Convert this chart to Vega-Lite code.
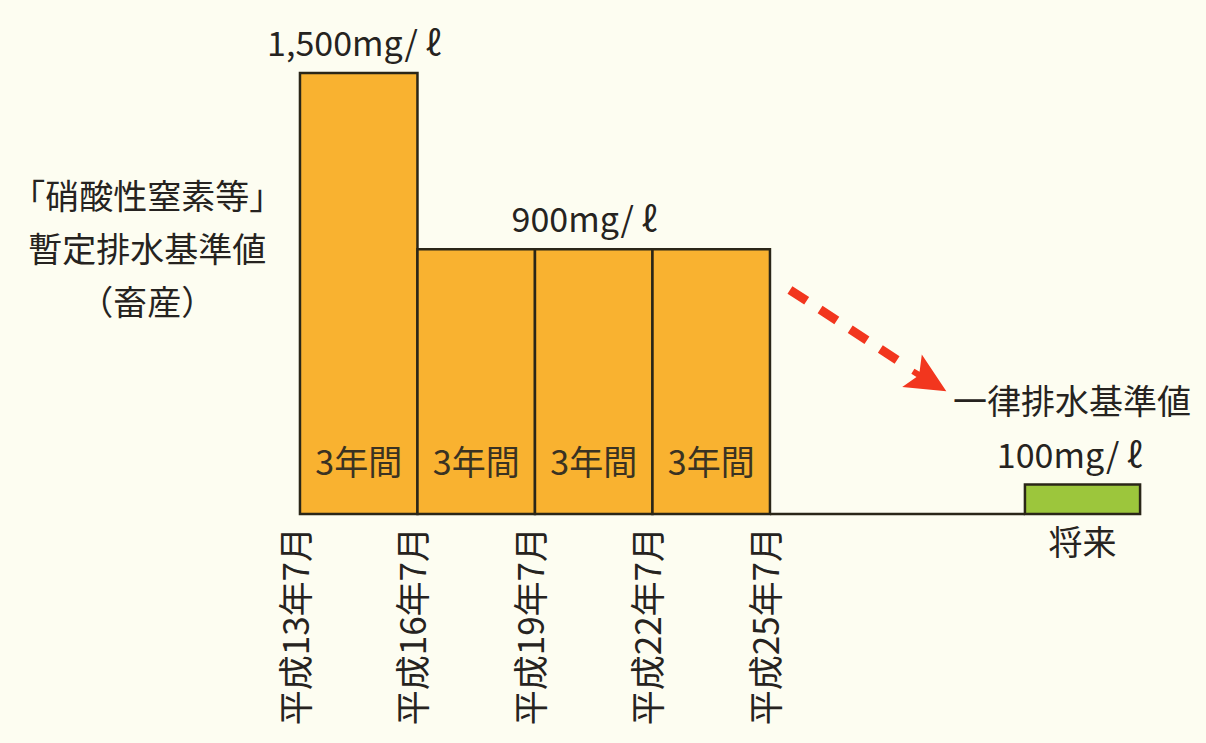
{
  "$schema": "https://vega.github.io/schema/vega-lite/v6.json",
  "width": 1206,
  "height": 743,
  "autosize": {"type": "fit", "contains": "padding"},
  "padding": 0,
  "background": "#fdfdf1",
  "config": {"view": {"stroke": null}, "text": {"font": "Noto Sans CJK JP", "color": "#262320"}},
  "datasets": {
    "bars": [
      {"start": 0, "end": 1, "value": 1500, "kind": "暫定", "period": "3年間"},
      {"start": 1, "end": 2, "value": 900, "kind": "暫定", "period": "3年間"},
      {"start": 2, "end": 3, "value": 900, "kind": "暫定", "period": "3年間"},
      {"start": 3, "end": 4, "value": 900, "kind": "暫定", "period": "3年間"},
      {"start": 6.17, "end": 7.15, "value": 100, "kind": "一律", "period": ""}
    ],
    "dates": [
      {"pos": 0, "label": "平成13年7月"},
      {"pos": 1, "label": "平成16年7月"},
      {"pos": 2, "label": "平成19年7月"},
      {"pos": 3, "label": "平成22年7月"},
      {"pos": 4, "label": "平成25年7月"}
    ],
    "amounts": [
      {"x": 0.46, "value": 1500, "label": "1,500mg/ ℓ"},
      {"x": 2.42, "value": 900, "label": "900mg/ ℓ"},
      {"x": 6.55, "value": 100, "label": "100mg/ ℓ"}
    ],
    "arrow": [
      {"x": 4.17, "y": 762},
      {"x": 5.085, "y": 523}
    ],
    "head": [{"x": 5.355, "y": 452}],
    "titles": [
      {"x": -1.30, "y": 1071, "label": "「硝酸性窒素等」"},
      {"x": -1.30, "y": 891, "label": "暫定排水基準値"},
      {"x": -1.30, "y": 711, "label": "（畜産）"},
      {"x": 6.57, "y": 374, "label": "一律排水基準値"},
      {"x": 6.66, "y": -105, "label": "将来"}
    ],
    "base": [{"a": 4, "b": 6.17, "v": 0}]
  },
  "layer": [
    {
      "data": {"name": "bars"},
      "mark": {"type": "bar", "stroke": "#2a2618", "strokeWidth": 2.5},
      "encoding": {
        "x": {"field": "start", "type": "quantitative", "scale": {"domain": [-2.553, 7.711], "nice": false, "zero": false}, "axis": null},
        "x2": {"field": "end"},
        "y": {"field": "value", "type": "quantitative", "scale": {"domain": [-779, 1748], "nice": false, "zero": false}, "axis": null},
        "y2": {"datum": 0},
        "fill": {"field": "kind", "type": "nominal", "scale": {"domain": ["暫定", "一律"], "range": ["#f9b230", "#9cc63c"]}, "legend": null}
      }
    },
    {
      "data": {"name": "base"},
      "mark": {"type": "rule", "stroke": "#2a2618", "strokeWidth": 2.5},
      "encoding": {
        "x": {"field": "a", "type": "quantitative"},
        "x2": {"field": "b"},
        "y": {"field": "v", "type": "quantitative"}
      }
    },
    {
      "data": {"name": "bars"},
      "transform": [{"calculate": "(datum.start + datum.end) / 2", "as": "mid"}, {"calculate": "0", "as": "zero"}],
      "mark": {"type": "text", "fontSize": 34, "baseline": "middle", "align": "center", "yOffset": -49, "color": "#3a3222"},
      "encoding": {
        "x": {"field": "mid", "type": "quantitative"},
        "y": {"field": "zero", "type": "quantitative"},
        "text": {"field": "period"}
      }
    },
    {
      "data": {"name": "dates"},
      "transform": [{"calculate": "0", "as": "zero"}],
      "mark": {"type": "text", "fontSize": 35, "angle": 270, "align": "right", "baseline": "middle", "yOffset": 13, "xOffset": -2},
      "encoding": {
        "x": {"field": "pos", "type": "quantitative"},
        "y": {"field": "zero", "type": "quantitative"},
        "text": {"field": "label"}
      }
    },
    {
      "data": {"name": "amounts"},
      "mark": {"type": "text", "fontSize": 34, "align": "center", "baseline": "middle", "yOffset": -27},
      "encoding": {
        "x": {"field": "x", "type": "quantitative"},
        "y": {"field": "value", "type": "quantitative"},
        "text": {"field": "label"}
      }
    },
    {
      "data": {"name": "titles"},
      "mark": {"type": "text", "fontSize": 34, "align": "center", "baseline": "middle"},
      "encoding": {
        "x": {"field": "x", "type": "quantitative"},
        "y": {"field": "y", "type": "quantitative"},
        "text": {"field": "label"}
      }
    },
    {
      "data": {"name": "arrow"},
      "mark": {"type": "line", "stroke": "#f2361e", "strokeWidth": 9, "strokeDash": [20, 16], "strokeCap": "butt"},
      "encoding": {
        "x": {"field": "x", "type": "quantitative"},
        "y": {"field": "y", "type": "quantitative"}
      }
    },
    {
      "data": {"name": "head"},
      "mark": {"type": "point", "filled": true, "fill": "#f2361e", "opacity": 1, "strokeWidth": 0, "size": 1600, "angle": 31, "shape": "M1,0 L-1,-0.95 L-0.65,-0.15 L-0.95,-0.15 L-0.95,0.15 L-0.65,0.15 L-1,0.95 Z"},
      "encoding": {
        "x": {"field": "x", "type": "quantitative"},
        "y": {"field": "y", "type": "quantitative"}
      }
    }
  ]
}
